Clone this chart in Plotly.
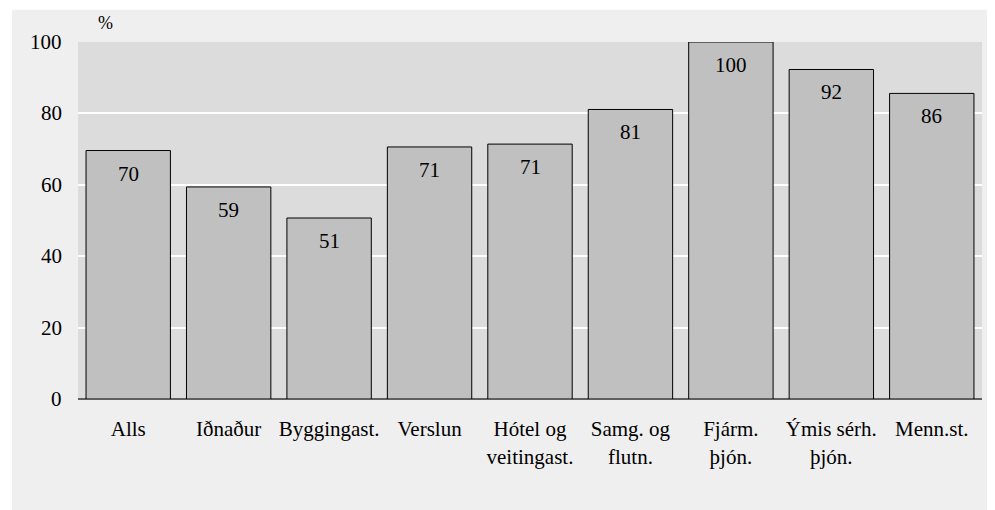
import plotly.graph_objects as go

CATEGORIES = ["Alls", "Iðnaður", "Byggingast.", "Verslun", "Hótel og<br>veitingast.",
              "Samg. og<br>flutn.", "Fjárm.<br>þjón.", "Ýmis sérh.<br>þjón.", "Menn.st."]
VALUES = [69.6, 59.4, 50.7, 70.6, 71.4, 81.1, 100, 92.3, 85.6]
LABELS = ["70", "59", "51", "71", "71", "81", "100", "92", "86"]
Y_TICKS = [0, 20, 40, 60, 80, 100]

FONT = "Liberation Serif"
TXT = dict(family=FONT, size=21, color="#000000")

fig = go.Figure()
fig.add_trace(go.Bar(
    x=CATEGORIES,
    y=VALUES,
    marker=dict(color="#c0c0c0", line=dict(color="#000000", width=1)),
    hoverinfo="x+y",
))

# value labels just inside the top of each bar
for cat, val, lab in zip(CATEGORIES, VALUES, LABELS):
    fig.add_annotation(x=cat, y=val, text=lab, showarrow=False,
                       yanchor="top", yshift=-9, font=TXT)

# y tick labels drawn as annotations on the axis values
for t in Y_TICKS:
    fig.add_annotation(xref="paper", x=0, y=t, text=str(t), showarrow=False,
                       xanchor="right", yanchor="middle", xshift=-14, font=TXT)

fig.add_annotation(xref="paper", yref="paper", x=0.03, y=1.02, text="%",
                   showarrow=False, xanchor="center", yanchor="bottom",
                   font=dict(family=FONT, size=18, color="#000000"))

# outer grey panel and plot-area background
fig.add_shape(type="rect", xref="paper", yref="paper", layer="below",
              x0=-0.073, x1=1.012, y0=-0.32, y1=1.09,
              fillcolor="#efefef", line=dict(width=0))
fig.add_shape(type="rect", xref="paper", yref="paper", layer="below",
              x0=0, x1=1, y0=0, y1=1,
              fillcolor="#dcdcdc", line=dict(width=0))

fig.update_layout(
    width=987,
    height=502,
    paper_bgcolor="#ffffff",
    plot_bgcolor="#dcdcdc",
    margin=dict(l=70, r=13, t=34, b=111),
    bargap=0.16,
    showlegend=False,
    xaxis=dict(
        tickfont=TXT,
        ticks="outside", ticklen=11, tickcolor="rgba(0,0,0,0)",
        showgrid=False, showline=False,
    ),
    yaxis=dict(
        range=[0, 100], tickvals=Y_TICKS, showticklabels=False,
        showgrid=True, gridcolor="#ffffff", gridwidth=2,
        zeroline=True, zerolinecolor="#5f5f5f", zerolinewidth=2,
        showline=False,
    ),
)

fig.write_html("out.html")
